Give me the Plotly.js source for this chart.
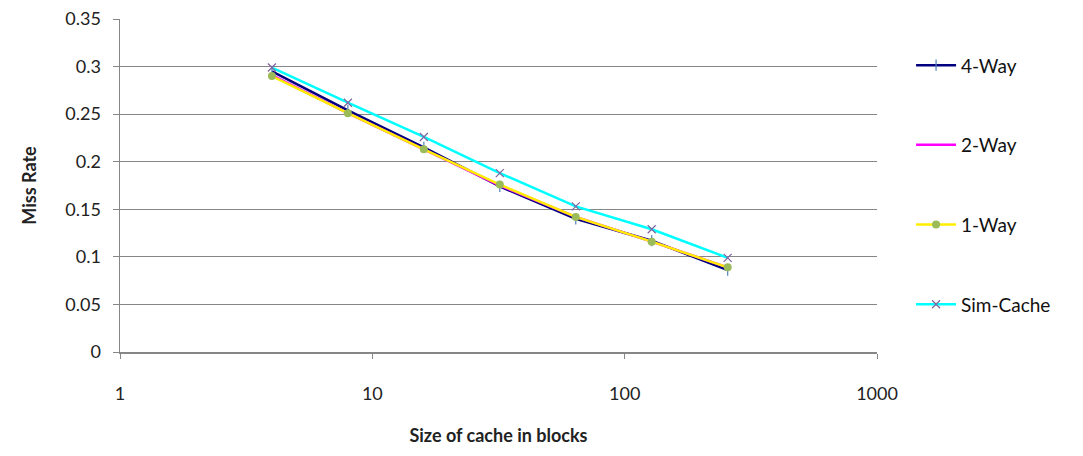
<!DOCTYPE html>
<html>
<head>
<meta charset="utf-8">
<script src="https://cdn.plot.ly/plotly-3.0.1.min.js"></script>
<style>html,body{margin:0;padding:0;background:#fff;}#chart{width:1083px;height:456px;}</style>
</head>
<body>
<div id="chart"></div>
<script>
var cacheSizes = [4, 8, 16, 32, 64, 128, 256];
var way4 = [0.295, 0.254, 0.215, 0.174, 0.140, 0.117, 0.086];
var way2 = [0.291, 0.251, 0.213, 0.175, 0.142, 0.116, 0.089];
var way1 = [0.290, 0.251, 0.213, 0.176, 0.142, 0.116, 0.089];
var simCache = [0.299, 0.262, 0.226, 0.188, 0.153, 0.129, 0.099];
var seriesNames = ['4-Way', '2-Way', '1-Way', 'Sim-Cache'];
var xTicks = [1, 10, 100, 1000];
var yTicks = [0, 0.05, 0.1, 0.15, 0.2, 0.25, 0.3, 0.35];

var font = 'Lato, "Open Sans", sans-serif';

var traces = [
  {x: cacheSizes, y: way4, name: seriesNames[0], legendgroup: 'a', mode: 'lines+markers',
   line: {color: '#000080', width: 2.5},
   marker: {symbol: 'line-ns', size: 8, line: {color: '#4F81BD', width: 1.2}, color: '#4F81BD'}},
  {x: cacheSizes, y: way2, name: seriesNames[1], legendgroup: 'b', mode: 'lines',
   line: {color: '#FF00FF', width: 2.5}},
  {x: cacheSizes, y: way1, name: seriesNames[2], legendgroup: 'c', mode: 'lines+markers',
   line: {color: '#FFEE00', width: 2.5},
   marker: {symbol: 'circle', size: 8, color: '#9BBB59'}},
  {x: cacheSizes, y: simCache, name: seriesNames[3], legendgroup: 'd', mode: 'lines+markers',
   line: {color: '#00FFFF', width: 2.5},
   marker: {symbol: 'x-thin', size: 8, line: {color: '#8064A2', width: 1.2}, color: '#8064A2'}}
];

var layout = {
  width: 1083, height: 456,
  margin: {l: 120, r: 206, t: 19, b: 104},
  paper_bgcolor: '#fff', plot_bgcolor: '#fff',
  font: {family: font, size: 18, color: '#222'},
  showlegend: true,
  legend: {x: 1.045, xanchor: 'left', y: 0.918, yanchor: 'top', traceorder: 'grouped',
           tracegroupgap: 52, itemwidth: 40, font: {family: font, size: 19, color: '#111'}, bgcolor: 'rgba(0,0,0,0)'},
  xaxis: {type: 'log', range: [0, 3], tickvals: xTicks, ticktext: xTicks.map(String),
          showgrid: false, zeroline: false, showline: true, linecolor: '#868686', linewidth: 1.5,
          ticks: 'outside', ticklen: 5, tickcolor: '#868686', ticklabelstandoff: 20,
          tickfont: {family: font, size: 18, color: '#222'},
          title: {text: '<b>Size of cache in blocks</b>', font: {family: font, size: 18, color: '#222'}, standoff: 26}},
  yaxis: {range: [0, 0.35], tickvals: yTicks, ticktext: yTicks.map(function(v){return String(v);}),
          showgrid: true, gridcolor: '#868686', gridwidth: 1.2, zeroline: false,
          showline: true, linecolor: '#868686', linewidth: 1.5,
          ticks: 'outside', ticklen: 6, tickcolor: '#868686', ticklabelstandoff: 8,
          tickfont: {family: font, size: 18, color: '#222'},
          title: {text: '<b>Miss Rate</b>', font: {family: font, size: 18, color: '#222'}, standoff: 24}}
};

Plotly.newPlot('chart', traces, layout, {displayModeBar: false, staticPlot: true});
</script>
</body>
</html>
